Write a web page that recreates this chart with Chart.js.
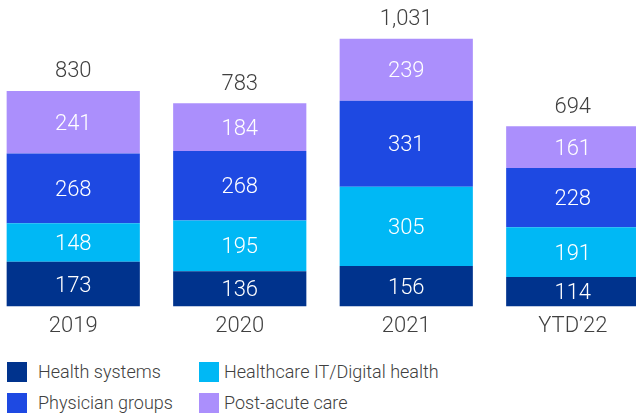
<!DOCTYPE html>
<html>
<head>
<meta charset="utf-8">
<script src="https://cdn.jsdelivr.net/npm/chart.js@4"></script>
<style>
  html, body { margin: 0; padding: 0; background: #fff; overflow: hidden; width: 636px; height: 414px; }
  #wrap { position: absolute; left: -10px; top: 0; width: 666px; height: 347px; }
  .lg { position: absolute; font: 300 18px Roboto, "Liberation Sans", sans-serif; color: #404040; line-height: 20px; }
  .sq { position: absolute; width: 20px; height: 20px; }
</style>
</head>
<body>
<div id="wrap"><canvas id="chart"></canvas></div>
<div id="legend"></div>
<script>
const categories = ['2019', '2020', '2021', 'YTD\u201922'];
const seriesNames = ['Health systems', 'Healthcare IT/Digital health', 'Physician groups', 'Post-acute care'];
const healthSystems = [173, 136, 156, 114];
const healthcareIT = [148, 195, 305, 191];
const physicianGroups = [268, 268, 331, 228];
const postAcute = [241, 184, 239, 161];
const colors = ['#00338d', '#00b8f5', '#1e49e2', '#ab8ffc'];

const textColor = '#404040';
Chart.defaults.font.family = 'Roboto, "Liberation Sans", sans-serif';
Chart.defaults.font.weight = 300;

// legend (html, two columns)
const legendPos = [[7, 362, 38], [199, 362, 224], [7, 393, 38], [199, 393, 224]];
const legendOrder = [0, 1, 2, 3];
const legendEl = document.getElementById('legend');
legendOrder.forEach((s, i) => {
    const [sx, sy, tx] = legendPos[i];
    legendEl.innerHTML += `<div class="sq" style="left:${sx}px;top:${sy}px;background:${colors[s]}"></div>` +
        `<div class="lg" style="left:${tx}px;top:${sy}px">${seriesNames[s]}</div>`;
});

const valueLabels = {
    id: 'valueLabels',
    afterDatasetsDraw(chart) {
        const ctx = chart.ctx;
        ctx.save();
        ctx.font = '300 22px Roboto, "Liberation Sans", sans-serif';
        ctx.textAlign = 'center';
        ctx.textBaseline = 'middle';
        const n = chart.data.datasets.length;
        chart.data.datasets.forEach((ds, di) => {
            const meta = chart.getDatasetMeta(di);
            meta.data.forEach((el, i) => {
                ctx.fillStyle = '#ffffff';
                ctx.fillText(ds.data[i], el.x, (el.y + el.base) / 2 + 2);
                if (di === n - 1) {
                    let total = 0;
                    chart.data.datasets.forEach(d => total += d.data[i]);
                    ctx.fillStyle = textColor;
                    ctx.fillText(total.toLocaleString('en-US'), el.x, el.y - 19);
                }
            });
        });
        ctx.restore();
    }
};

new Chart(document.getElementById('chart'), {
    type: 'bar',
    data: {
        labels: categories,
        datasets: [
            { label: seriesNames[0], data: healthSystems, backgroundColor: colors[0] },
            { label: seriesNames[1], data: healthcareIT, backgroundColor: colors[1] },
            { label: seriesNames[2], data: physicianGroups, backgroundColor: colors[2] },
            { label: seriesNames[3], data: postAcute, backgroundColor: colors[3] }
        ]
    },
    options: {
        responsive: true,
        maintainAspectRatio: false,
        animation: false,
        layout: { padding: 0 },
        datasets: { bar: { barPercentage: 0.8, categoryPercentage: 1 } },
        plugins: {
            legend: { display: false },
            tooltip: { enabled: false }
        },
        scales: {
            x: {
                stacked: true,
                grid: { display: false, drawTicks: false },
                border: { display: false },
                ticks: { color: textColor, font: { size: 22 }, padding: 7 }
            },
            y: {
                stacked: true,
                display: false,
                min: 0,
                max: 1180
            }
        }
    },
    plugins: [valueLabels]
});
</script>
</body>
</html>
